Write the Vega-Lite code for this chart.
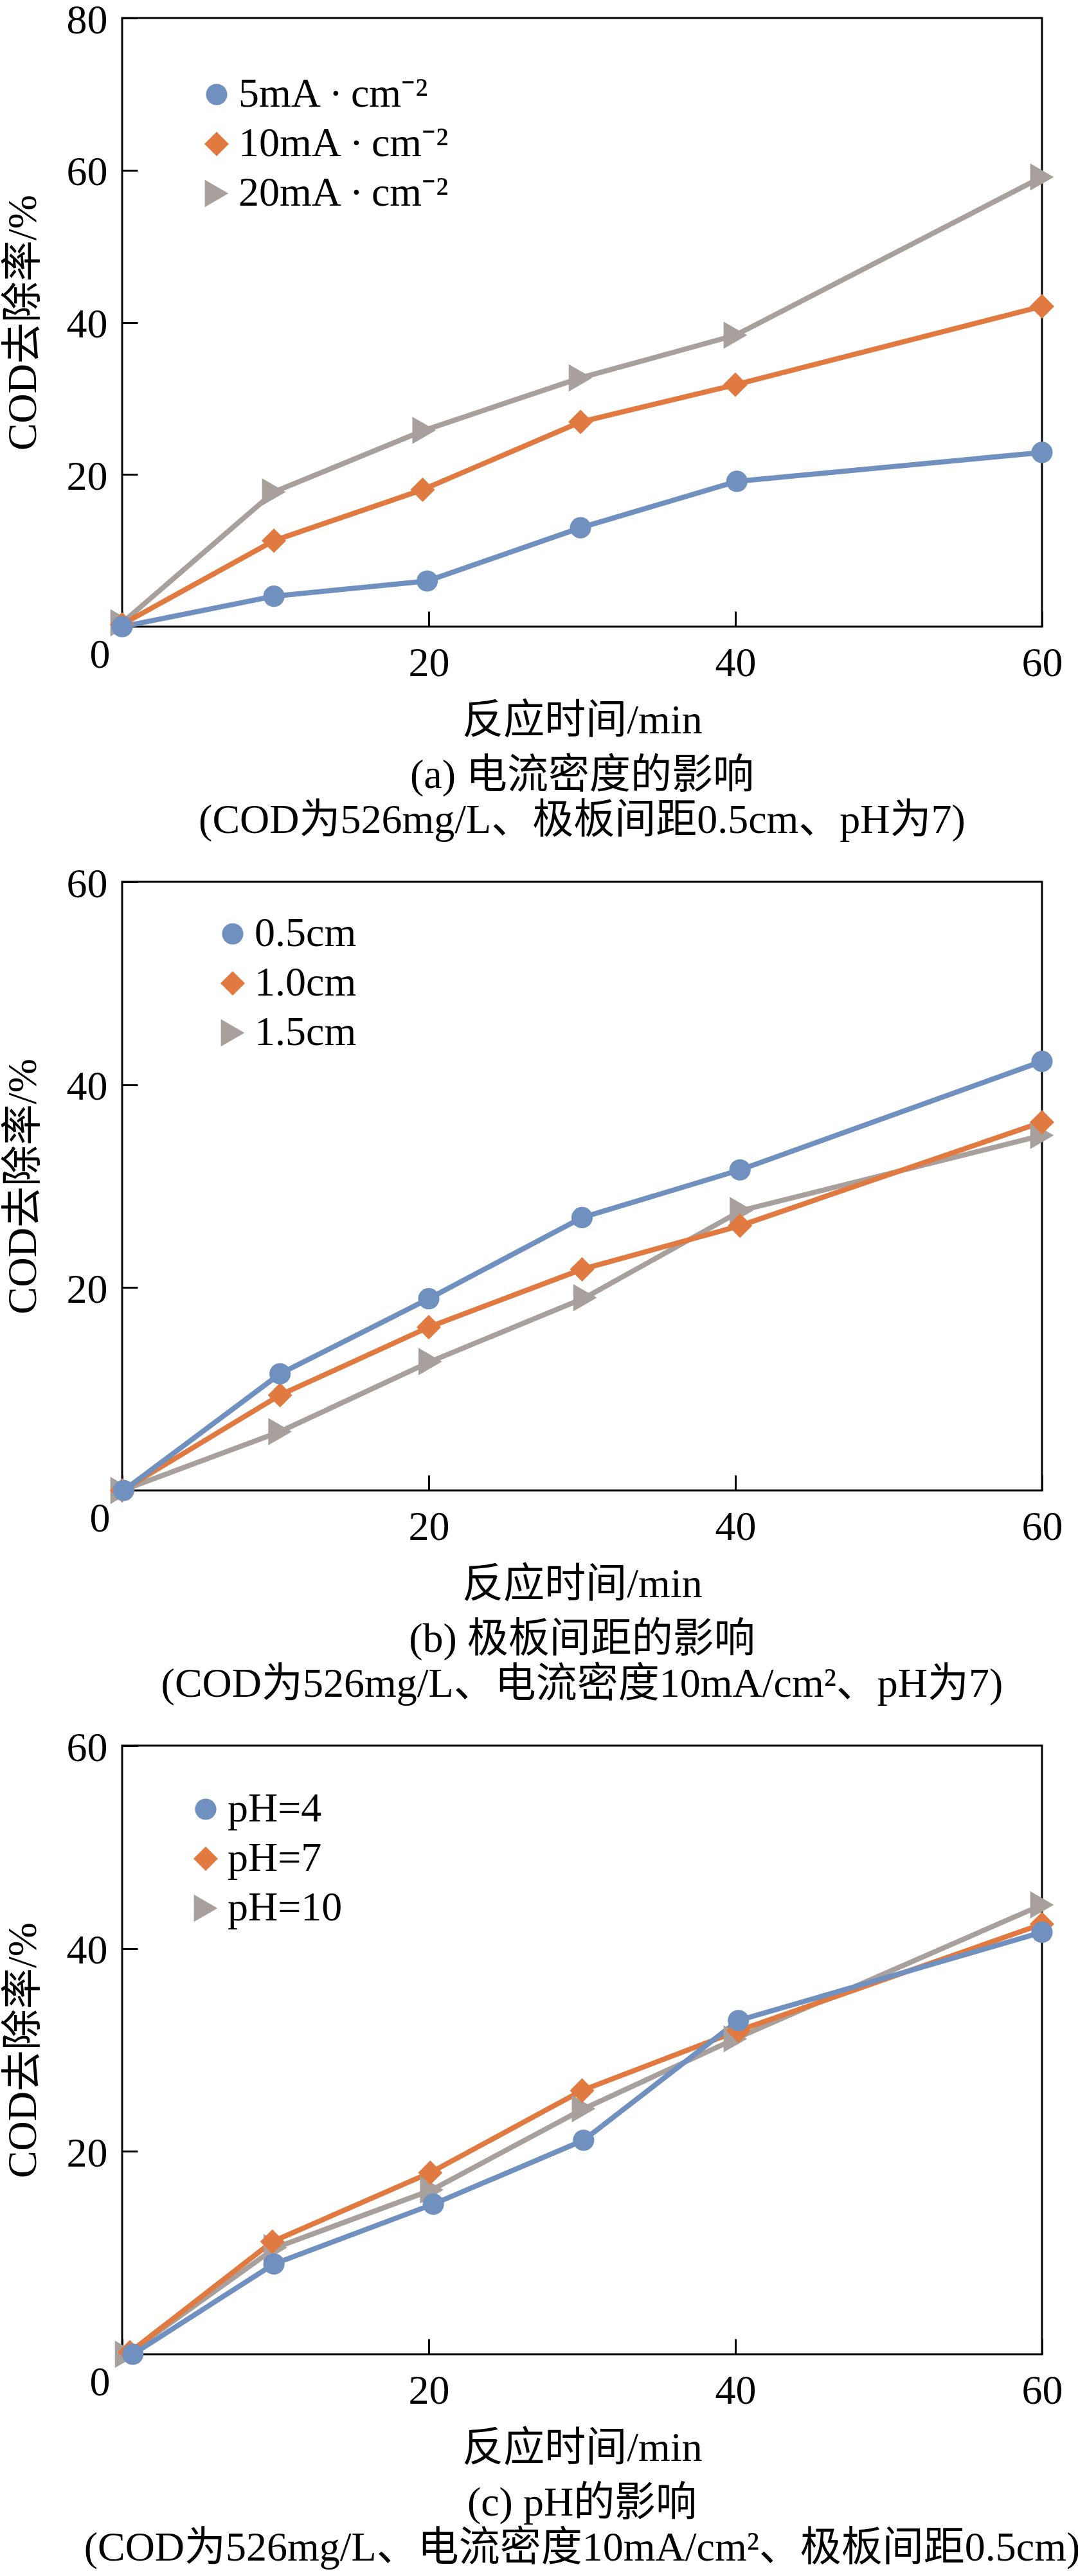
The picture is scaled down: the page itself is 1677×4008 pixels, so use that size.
{
  "$schema": "https://vega.github.io/schema/vega-lite/v6.json",
  "background": "white",
  "padding": {"left": 2, "top": -2, "right": 0, "bottom": 0},
  "config": {
    "font": "Liberation Serif, Noto Sans CJK SC",
    "view": {"stroke": "black", "strokeWidth": 3},
    "axis": {
      "labelFont": "Liberation Serif, Noto Sans CJK SC",
      "labelFontSize": 64,
      "labelColor": "black",
      "labelFlush": false,
      "labelOverlap": false,
      "titleFont": "Liberation Serif, Noto Sans CJK SC",
      "titleFontSize": 64,
      "titleFontWeight": "normal",
      "titleColor": "black",
      "grid": false,
      "domain": false,
      "ticks": true,
      "tickColor": "black",
      "tickWidth": 3,
      "tickSize": -24
    },
    "axisY": {"labelOffset": 4},
    "legend": {
      "labelFont": "Liberation Serif, Noto Sans CJK SC",
      "labelFontSize": 64,
      "labelColor": "black",
      "labelLimit": 0,
      "rowPadding": 13,
      "labelOffset": 2,
      "padding": 0,
      "symbolStrokeWidth": 0
    },
    "title": {
      "orient": "bottom",
      "anchor": "middle",
      "font": "Liberation Serif, Noto Sans CJK SC",
      "fontSize": 64,
      "fontWeight": "normal",
      "color": "black",
      "offset": 22,
      "lineHeight": 70
    },
    "concat": {"spacing": 31}
  },
  "datasets": {
    "a": [
      {"s": "20mA\u2009·\u2009cm⁻²", "t": 0, "r": 0.5},
      {"s": "20mA\u2009·\u2009cm⁻²", "t": 9.9, "r": 17.7},
      {"s": "20mA\u2009·\u2009cm⁻²", "t": 19.7, "r": 25.8},
      {"s": "20mA\u2009·\u2009cm⁻²", "t": 29.9, "r": 32.7},
      {"s": "20mA\u2009·\u2009cm⁻²", "t": 40.0, "r": 38.3},
      {"s": "20mA\u2009·\u2009cm⁻²", "t": 60.0, "r": 59.1},
      {"s": "10mA\u2009·\u2009cm⁻²", "t": 0, "r": 0.3},
      {"s": "10mA\u2009·\u2009cm⁻²", "t": 9.9, "r": 11.3},
      {"s": "10mA\u2009·\u2009cm⁻²", "t": 19.6, "r": 18.0},
      {"s": "10mA\u2009·\u2009cm⁻²", "t": 29.9, "r": 26.9},
      {"s": "10mA\u2009·\u2009cm⁻²", "t": 40.0, "r": 31.8},
      {"s": "10mA\u2009·\u2009cm⁻²", "t": 60.0, "r": 42.1},
      {"s": "5mA\u2009·\u2009cm⁻²", "t": 0, "r": 0},
      {"s": "5mA\u2009·\u2009cm⁻²", "t": 9.9, "r": 4.0},
      {"s": "5mA\u2009·\u2009cm⁻²", "t": 19.9, "r": 6.0},
      {"s": "5mA\u2009·\u2009cm⁻²", "t": 29.9, "r": 13.0},
      {"s": "5mA\u2009·\u2009cm⁻²", "t": 40.1, "r": 19.1},
      {"s": "5mA\u2009·\u2009cm⁻²", "t": 60.0, "r": 22.9}
    ],
    "b": [
      {"s": "1.5cm", "t": 0, "r": 0},
      {"s": "1.5cm", "t": 10.3, "r": 5.8},
      {"s": "1.5cm", "t": 20.1, "r": 12.7},
      {"s": "1.5cm", "t": 30.2, "r": 19.0},
      {"s": "1.5cm", "t": 40.4, "r": 27.6},
      {"s": "1.5cm", "t": 60.0, "r": 35.0},
      {"s": "1.0cm", "t": 0, "r": 0},
      {"s": "1.0cm", "t": 10.3, "r": 9.4},
      {"s": "1.0cm", "t": 20.0, "r": 16.1},
      {"s": "1.0cm", "t": 30.0, "r": 21.8},
      {"s": "1.0cm", "t": 40.3, "r": 26.1},
      {"s": "1.0cm", "t": 60.0, "r": 36.3},
      {"s": "0.5cm", "t": 0.1, "r": 0},
      {"s": "0.5cm", "t": 10.3, "r": 11.5},
      {"s": "0.5cm", "t": 20.0, "r": 18.9},
      {"s": "0.5cm", "t": 30.0, "r": 26.9},
      {"s": "0.5cm", "t": 40.3, "r": 31.6},
      {"s": "0.5cm", "t": 60.0, "r": 42.3}
    ],
    "c": [
      {"s": "pH=10", "t": 0.3, "r": 0},
      {"s": "pH=10", "t": 10.0, "r": 10.5},
      {"s": "pH=10", "t": 20.2, "r": 16.2},
      {"s": "pH=10", "t": 30.1, "r": 24.2},
      {"s": "pH=10", "t": 40.0, "r": 31.1},
      {"s": "pH=10", "t": 60.0, "r": 44.3},
      {"s": "pH=7", "t": 0.5, "r": 0.2},
      {"s": "pH=7", "t": 9.8, "r": 11.1},
      {"s": "pH=7", "t": 20.1, "r": 17.9},
      {"s": "pH=7", "t": 30.0, "r": 26.0},
      {"s": "pH=7", "t": 40.2, "r": 31.9},
      {"s": "pH=7", "t": 60.0, "r": 42.4},
      {"s": "pH=4", "t": 0.7, "r": 0},
      {"s": "pH=4", "t": 9.9, "r": 8.9},
      {"s": "pH=4", "t": 20.3, "r": 14.8},
      {"s": "pH=4", "t": 30.1, "r": 21.1},
      {"s": "pH=4", "t": 40.2, "r": 32.9},
      {"s": "pH=4", "t": 60.0, "r": 41.6}
    ]
  },
  "vconcat": [
    {
      "width": 1431,
      "height": 947,
      "title": {"text": ["(a) 电流密度的影响", "(COD为526mg/L、极板间距0.5cm、pH为7)"]},
      "data": {"name": "a"},
      "encoding": {
        "x": {"field": "t", "type": "quantitative", "scale": {"domain": [0, 60], "nice": false},
          "axis": {"values": [0, 20, 40, 60], "title": "反应时间/min", "titlePadding": 25,
            "labelAlign": {"condition": {"test": "datum.value === 0", "value": "right"}, "value": "center"},
            "labelOffset": {"condition": {"test": "datum.value === 0", "value": -19}, "value": 0},
            "labelPadding": {"condition": {"test": "datum.value === 0", "value": 36}, "value": 49}}},
        "y": {"field": "r", "type": "quantitative", "scale": {"domain": [0, 80], "nice": false},
          "axis": {"values": [20, 40, 60, 80], "title": "COD去除率/%", "labelPadding": 47, "titlePadding": 35}}
      },
      "layer": [
        {"mark": {"type": "line", "strokeWidth": 8},
          "encoding": {"stroke": {"field": "s", "type": "nominal", "legend": null,
            "scale": {"domain": ["20mA\u2009·\u2009cm⁻²", "10mA\u2009·\u2009cm⁻²", "5mA\u2009·\u2009cm⁻²"], "range": ["#A8A09C", "#E07A40", "#7090C0"]}}}},
        {"mark": {"type": "point", "filled": true, "opacity": 1},
          "encoding": {
            "color": {"field": "s", "type": "nominal",
              "scale": {"domain": ["5mA\u2009·\u2009cm⁻²", "10mA\u2009·\u2009cm⁻²", "20mA\u2009·\u2009cm⁻²"], "range": ["#7090C0", "#E07A40", "#A8A09C"]},
              "legend": {"orient": "none", "title": null, "legendX": 115, "legendY": 87}},
            "shape": {"field": "s", "type": "nominal",
              "scale": {"domain": ["5mA\u2009·\u2009cm⁻²", "10mA\u2009·\u2009cm⁻²", "20mA\u2009·\u2009cm⁻²"], "range": ["circle", "diamond", "triangle-right"]},
              "legend": {"orient": "none", "title": null, "legendX": 115, "legendY": 87}},
            "size": {"field": "s", "type": "nominal",
              "scale": {"domain": ["5mA\u2009·\u2009cm⁻²", "10mA\u2009·\u2009cm⁻²", "20mA\u2009·\u2009cm⁻²"], "range": [1100, 1800, 1250]},
              "legend": {"orient": "none", "title": null, "legendX": 115, "legendY": 87}}
          }}
      ]
    },
    {
      "width": 1431,
      "height": 947,
      "title": {"text": ["(b) 极板间距的影响", "(COD为526mg/L、电流密度10mA/cm²、pH为7)"]},
      "data": {"name": "b"},
      "encoding": {
        "x": {"field": "t", "type": "quantitative", "scale": {"domain": [0, 60], "nice": false},
          "axis": {"values": [0, 20, 40, 60], "title": "反应时间/min", "titlePadding": 25,
            "labelAlign": {"condition": {"test": "datum.value === 0", "value": "right"}, "value": "center"},
            "labelOffset": {"condition": {"test": "datum.value === 0", "value": -19}, "value": 0},
            "labelPadding": {"condition": {"test": "datum.value === 0", "value": 36}, "value": 49}}},
        "y": {"field": "r", "type": "quantitative", "scale": {"domain": [0, 60], "nice": false},
          "axis": {"values": [20, 40, 60], "title": "COD去除率/%", "labelPadding": 47, "titlePadding": 35}}
      },
      "layer": [
        {"mark": {"type": "line", "strokeWidth": 8},
          "encoding": {"stroke": {"field": "s", "type": "nominal", "legend": null,
            "scale": {"domain": ["1.5cm", "1.0cm", "0.5cm"], "range": ["#A8A09C", "#E07A40", "#7090C0"]}}}},
        {"mark": {"type": "point", "filled": true, "opacity": 1},
          "encoding": {
            "color": {"field": "s", "type": "nominal",
              "scale": {"domain": ["0.5cm", "1.0cm", "1.5cm"], "range": ["#7090C0", "#E07A40", "#A8A09C"]},
              "legend": {"orient": "none", "title": null, "legendX": 140, "legendY": 49}},
            "shape": {"field": "s", "type": "nominal",
              "scale": {"domain": ["0.5cm", "1.0cm", "1.5cm"], "range": ["circle", "diamond", "triangle-right"]},
              "legend": {"orient": "none", "title": null, "legendX": 140, "legendY": 49}},
            "size": {"field": "s", "type": "nominal",
              "scale": {"domain": ["0.5cm", "1.0cm", "1.5cm"], "range": [1100, 1800, 1250]},
              "legend": {"orient": "none", "title": null, "legendX": 140, "legendY": 49}}
          }}
      ]
    },
    {
      "width": 1431,
      "height": 947,
      "title": {"text": ["(c) pH的影响", "(COD为526mg/L、电流密度10mA/cm²、极板间距0.5cm)"]},
      "data": {"name": "c"},
      "encoding": {
        "x": {"field": "t", "type": "quantitative", "scale": {"domain": [0, 60], "nice": false},
          "axis": {"values": [0, 20, 40, 60], "title": "反应时间/min", "titlePadding": 25,
            "labelAlign": {"condition": {"test": "datum.value === 0", "value": "right"}, "value": "center"},
            "labelOffset": {"condition": {"test": "datum.value === 0", "value": -19}, "value": 0},
            "labelPadding": {"condition": {"test": "datum.value === 0", "value": 36}, "value": 49}}},
        "y": {"field": "r", "type": "quantitative", "scale": {"domain": [0, 60], "nice": false},
          "axis": {"values": [20, 40, 60], "title": "COD去除率/%", "labelPadding": 47, "titlePadding": 35}}
      },
      "layer": [
        {"mark": {"type": "line", "strokeWidth": 8},
          "encoding": {"stroke": {"field": "s", "type": "nominal", "legend": null,
            "scale": {"domain": ["pH=10", "pH=7", "pH=4"], "range": ["#A8A09C", "#E07A40", "#7090C0"]}}}},
        {"mark": {"type": "point", "filled": true, "opacity": 1},
          "encoding": {
            "color": {"field": "s", "type": "nominal",
              "scale": {"domain": ["pH=4", "pH=7", "pH=10"], "range": ["#7090C0", "#E07A40", "#A8A09C"]},
              "legend": {"orient": "none", "title": null, "legendX": 98, "legendY": 67}},
            "shape": {"field": "s", "type": "nominal",
              "scale": {"domain": ["pH=4", "pH=7", "pH=10"], "range": ["circle", "diamond", "triangle-right"]},
              "legend": {"orient": "none", "title": null, "legendX": 98, "legendY": 67}},
            "size": {"field": "s", "type": "nominal",
              "scale": {"domain": ["pH=4", "pH=7", "pH=10"], "range": [1100, 1800, 1250]},
              "legend": {"orient": "none", "title": null, "legendX": 98, "legendY": 67}}
          }}
      ]
    }
  ],
  "resolve": {
    "scale": {"color": "independent", "shape": "independent", "size": "independent", "stroke": "independent", "x": "independent", "y": "independent"},
    "legend": {"color": "independent", "shape": "independent", "size": "independent"}
  }
}
